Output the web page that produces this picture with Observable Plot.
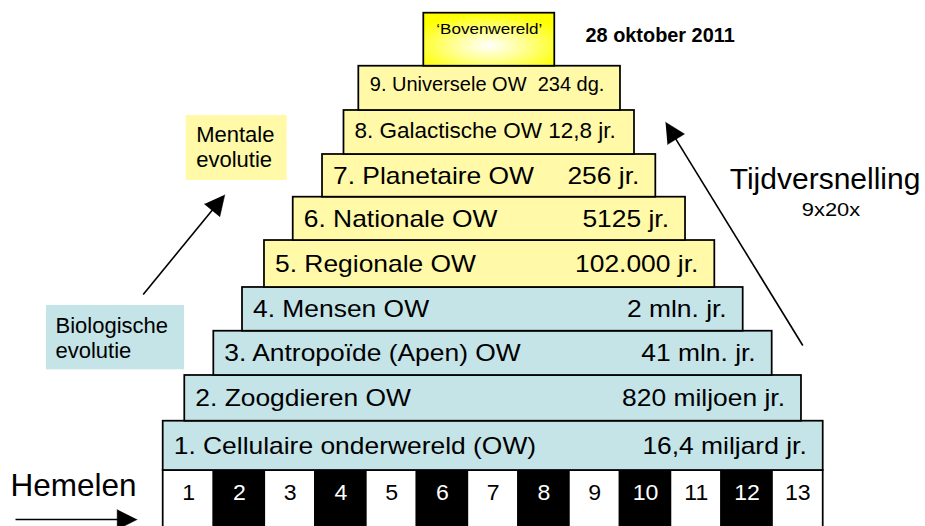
<!DOCTYPE html>
<html>
<head>
<meta charset="utf-8">
<script src="https://cdn.jsdelivr.net/npm/d3@7"></script>
<script src="https://cdn.jsdelivr.net/npm/@observablehq/plot@0.6"></script>
<style>
html, body { margin: 0; padding: 0; background: #fff; overflow: hidden; }
svg text { white-space: pre; }
</style>
</head>
<body>
<div id="chart"></div>
<script>
// ---- data (x in "heaven cell" units, y in "level" units) ----
const levelNames = [
  "1. Cellulaire onderwereld (OW)",
  "2. Zoogdieren OW",
  "3. Antropoïde (Apen) OW",
  "4. Mensen OW",
  "5. Regionale OW",
  "6. Nationale OW",
  "7. Planetaire OW",
  "8. Galactische OW 12,8 jr.",
  "9. Universele OW  234 dg."
];
const levelDurations = [
  "16,4 miljard jr.", "820 miljoen jr.", "41 mln. jr.", "2 mln. jr.",
  "102.000 jr.", "5125 jr.", "256 jr.", "", ""
];
const levelKinds = ["bio", "bio", "bio", "bio", "mental", "mental", "mental", "mental", "mental"];
const levelStart = [0, 0.425, 0.997, 1.562, 1.995, 2.561, 3.138, 3.561, 3.853];
const levelEnd = [13, 12.572, 11.995, 11.424, 10.865, 10.288, 9.703, 9.283, 9.007];
const levelTop = [1.098, 2.116, 3.102, 4.076, 5.122, 6.087, 7.038, 8.018, 9.004];

const topLabel = "‘Bovenwereld’";
const topExtent = [5.133, 7.713, 9.004, 10.185];
const dateLabel = "28 oktober 2011";
const heavenLabels = ["1","2","3","4","5","6","7","8","9","10","11","12","13"];
const heavenTitle = "Hemelen";
const accelTitle = "Tijdversnelling";
const accelFactor = "9x20x";
const mentalLabel = "Mentale\nevolutie";
const bioLabel = "Biologische\nevolutie";

// ---- build tables ----
const levels = levelNames.map((name, i) => ({
  name, duration: levelDurations[i], kind: levelKinds[i],
  start: levelStart[i], end: levelEnd[i],
  bottom: i === 0 ? 0 : levelTop[i - 1], top: levelTop[i],
  mid: ((i === 0 ? 0 : levelTop[i - 1]) + levelTop[i]) / 2, idx: i + 1
}));
const cells = heavenLabels.map((label, i) => ({label, x1: i, x2: i + 1, xc: i + 0.5, dark: i % 2 === 1}));

const colors = {bio: "#C4E4E8", mental: "#FFF9A8"};

const X0 = -3.2046, X1 = 15.0148, Y0 = -1.2472, Y1 = 10.4677;
const W = 925, H = 526;
const kx = W / (X1 - X0), ky = H / (Y1 - Y0);

// arrow definitions (tail -> tip)
const arrows = [
  {id: "bio", tail: [-0.394, 3.920], tip: [1.213, 6.140]},
  {id: "accel", tail: [12.598, 2.784], tip: [9.894, 7.757]},
  {id: "heaven", tail: [-2.909, -1.091], tip: [-0.512, -1.091]}
];
const headLen = 20, headHalf = 10;
const shafts = [], heads = [];
for (const a of arrows) {
  const dxp = (a.tip[0] - a.tail[0]) * kx, dyp = -(a.tip[1] - a.tail[1]) * ky;
  const len = Math.hypot(dxp, dyp), ux = dxp / len, uy = dyp / len;
  const bx = -ux * headLen, by = -uy * headLen, px = -uy, py = ux;
  const toData = (ox, oy) => ({id: a.id, x: a.tip[0] + ox / kx, y: a.tip[1] - oy / ky});
  shafts.push({id: a.id, x: a.tail[0], y: a.tail[1]}, toData(bx * 0.9, by * 0.9));
  heads.push(toData(0, 0), toData(bx + px * headHalf, by + py * headHalf), toData(bx - px * headHalf, by - py * headHalf));
}

const lower = levels.filter(d => d.idx <= 7);

const plot = Plot.plot({
  width: W, height: H, margin: 0,
  x: {domain: [X0, X1], axis: null},
  y: {domain: [Y0, Y1], axis: null},
  style: {fontFamily: "'Liberation Sans', Arial, sans-serif", background: "white", color: "black"},
  marks: [
    // annotation boxes
    Plot.rect([{x1: 0.453, x2: 2.442, y1: 6.459, y2: 7.906}], {x1: "x1", x2: "x2", y1: "y1", y2: "y2", fill: colors.mental}),
    Plot.rect([{x1: -2.299, x2: 0.42, y1: 2.243, y2: 3.675}], {x1: "x1", x2: "x2", y1: "y1", y2: "y2", fill: colors.bio}),
    Plot.text([mentalLabel], {x: 0.65, y: 7.227, text: d => d, textAnchor: "start", fontSize: 22, lineHeight: 1.14, fill: "black"}),
    Plot.text([bioLabel], {x: -2.121, y: 2.973, text: d => d, textAnchor: "start", fontSize: 22, lineHeight: 1.14, fill: "black"}),
    // heaven cells
    Plot.rect(cells, {x1: "x1", x2: "x2", y1: Y0 - 0.2, y2: 0, fill: d => d.dark ? "black" : "white", stroke: "black", strokeWidth: 1.75}),
    Plot.text(cells, {x: "xc", y: -0.497, text: "label", fontSize: 22, fill: d => d.dark ? "white" : "black"}),
    // levels
    Plot.rect(levels, {x1: "start", x2: "end", y1: "bottom", y2: "top", fill: d => colors[d.kind], stroke: "black", strokeWidth: 1.75}),
    Plot.rect([topExtent], {x1: d => d[0], x2: d => d[1], y1: d => d[2], y2: d => d[3], fill: "url(#bovenGrad)", stroke: "black", strokeWidth: 1.75}),
    Plot.text(lower, {x: "start", y: "mid", text: "name", textAnchor: "start", dx: 10.5, fontSize: 24, fill: "black"}),
    Plot.text(lower, {x: "end", y: "mid", text: "duration", textAnchor: "end", dx: -16.5, fontSize: 24, fill: "black"}),
    Plot.text(levels.filter(d => d.idx === 8), {x: "start", y: "mid", text: "name", textAnchor: "start", dx: 10.5, dy: -2, fontSize: 22.5, fill: "black"}),
    Plot.text(levels.filter(d => d.idx === 9), {x: "start", y: "mid", text: "name", textAnchor: "start", dx: 11, dy: -4, fontSize: 20, fill: "black"}),
    Plot.text([topLabel], {x: (topExtent[0] + topExtent[1]) / 2, y: 9.837, text: d => d, fontSize: 15.5, fill: "black"}),
    Plot.text([dateLabel], {x: 8.318, y: 9.677, text: d => d, textAnchor: "start", fontSize: 19.5, fontWeight: "bold", fill: "black"}),
    // side labels
    Plot.text([accelTitle], {x: 11.159, y: 6.488, text: d => d, textAnchor: "start", fontSize: 30, fill: "black"}),
    Plot.text([accelFactor], {x: 13.153, y: 5.815, text: d => d, fontSize: 19, fill: "black"}),
    Plot.text([heavenTitle], {x: -3.008, y: -0.332, text: d => d, textAnchor: "start", fontSize: 31.5, fill: "black"}),
    // arrows
    Plot.line(shafts, {x: "x", y: "y", z: "id", stroke: "black", strokeWidth: 1.6, strokeLinecap: "butt"}),
    Plot.line(heads, {x: "x", y: "y", z: "id", fill: "black", stroke: "black", strokeWidth: 0.5})
  ]
});

// gradient for the top box
const defs = document.createElementNS("http://www.w3.org/2000/svg", "defs");
defs.innerHTML = '<radialGradient id="bovenGrad" cx="50%" cy="62%" r="62%"><stop offset="0%" stop-color="#FFFFFF"/><stop offset="45%" stop-color="#FFFF90"/><stop offset="100%" stop-color="#FFFF00"/></radialGradient>';
plot.insertBefore(defs, plot.firstChild);

document.getElementById("chart").appendChild(plot);

// horizontal stretch of some labels to match the reference typography
const stretch = new Map();
levelNames.slice(0, 7).forEach(s => stretch.set(s, 1.1));
levelDurations.slice(0, 7).forEach(s => stretch.set(s, 1.1));
heavenLabels.forEach(s => stretch.set(s, 1.05));
stretch.set(topLabel, 1.1);
stretch.set(accelFactor, 1.15);
stretch.set(dateLabel, 1.02);
plot.querySelectorAll("text").forEach(t => {
  if (t.querySelector("tspan")) return;
  const f = stretch.get(t.textContent);
  if (!f) return;
  const w = t.getComputedTextLength();
  if (!(w > 0)) return;
  t.setAttribute("textLength", (w * f).toFixed(2));
  t.setAttribute("lengthAdjust", "spacingAndGlyphs");
});
</script>
</body>
</html>
